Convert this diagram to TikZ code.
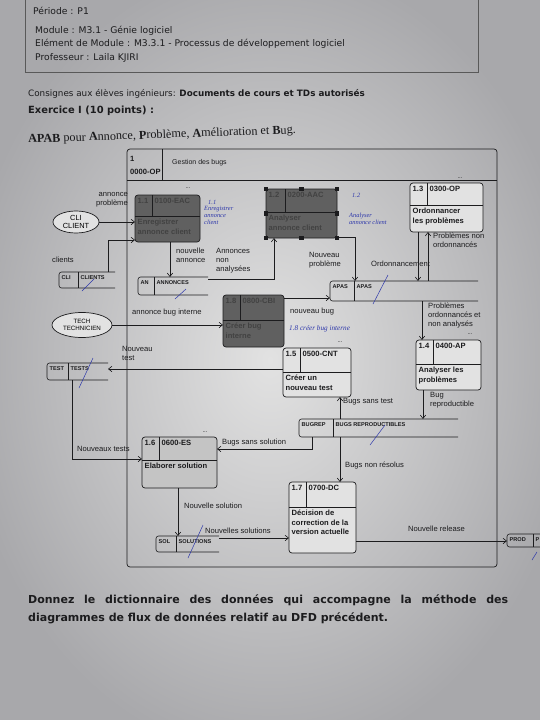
\documentclass[tikz,border=0pt]{standalone}
\usepackage{fontspec}
\setmainfont{Liberation Sans}
\newfontfamily\printfont{Liberation Serif}
\newfontfamily\roundfont{DejaVu Sans}
\usetikzlibrary{arrows.meta,shapes.geometric,calc}

\definecolor{paperhi}{RGB}{226,226,226}
\definecolor{paperlo}{RGB}{168,168,171}
\definecolor{ink}{RGB}{28,28,30}
\definecolor{pen}{RGB}{45,55,170}
\definecolor{darkfill}{RGB}{96,96,96}
\definecolor{lightfill}{RGB}{196,196,196}
\definecolor{boxfill}{RGB}{226,226,226}

\tikzset{
  procbox/.style={draw=ink, line width=0.7pt, rounded corners=3pt, inner sep=0pt, outer sep=0pt, fill=boxfill},
  darkproc/.style={fill=darkfill},
  greyproc/.style={fill=lightfill},
  divline/.style={draw=ink, line width=0.6pt},
  ptext/.style={font=\fontsize{7.6}{9.4}\selectfont\bfseries, text=ink, inner sep=0pt, align=left},
  dtext/.style={ptext, text=black!74},
  stext/.style={font=\fontsize{5.6}{6.5}\selectfont\bfseries, text=ink, inner sep=0pt},
  storeline/.style={draw=ink, line width=0.6pt},
  entity/.style={ellipse, draw=ink, line width=0.7pt, fill=boxfill, inner sep=0pt, align=center},
  flow/.style={draw=ink, line width=0.6pt, -{Straight Barb[length=3.5pt,width=5.5pt]}},
  lbl/.style={font=\fontsize{7.6}{9}\selectfont, text=ink, inner sep=0pt, align=left},
  pentext/.style={text=pen, font=\printfont\itshape\fontsize{6.4}{7}\selectfont, inner sep=0pt, align=left},
  penslash/.style={draw=pen, line width=0.5pt},
  dots/.style={font=\fontsize{6}{6}\selectfont, text=ink, inner sep=0pt},
  hdr/.style={font=\roundfont\fontsize{9.2}{10}\selectfont, text=ink, inner sep=0pt, anchor=west},
}

% process box: name, x1, y1, x2, y2, column x, row y, extra style
\newcommand\proc[8]{%
  \node[procbox,#8,minimum width={#4-#2},minimum height={#5-#3}] (#1) at ({(#2+#4)/2},{(#3+#5)/2}) {};
  \coordinate (#1-c) at (#6,#3);
  \coordinate (#1-r) at (#2,#7);
  \draw[divline] (#6,#3) -- (#6,#7);
  \draw[divline] (#2,#7) -- (#4,#7);
}
% process texts: name, style, number, code, label
\newcommand\proctext[5]{%
  \node[#2,anchor=north west] (#1-num) at ([shift={(2.5,3)}]#1.north west) {#3};
  \node[#2,anchor=north west] (#1-code) at ([shift={(2.5,3)}]#1-c) {#4};
  \node[#2,anchor=north west] (#1-lbl) at ([shift={(2.5,3)}]#1-r) {#5};
}
% data store: name, x1, y1, x end, y2, divider x, id, label
\newcommand\store[8]{%
  \node[inner sep=0pt, outer sep=0pt, minimum width={#4-#2}, minimum height={#5-#3}] (#1) at ({(#2+#4)/2},{(#3+#5)/2}) {};
  \draw[storeline, rounded corners=2.5pt] (#4,#3) -- (#2,#3) -- (#2,#5) -- (#4,#5);
  \draw[storeline] (#6,#3) -- (#6,#5);
  \node[stext,anchor=north west] (#1-id) at ({#2+2.5},{#3+3.5}) {#7};
  \node[stext,anchor=north west] (#1-nm) at ({#6+2.5},{#3+3.5}) {#8};
}

\begin{document}
\begin{tikzpicture}[x=1pt,y=-1pt]
\useasboundingbox (0,0) rectangle (540,720);
\shade[inner color=paperhi, outer color=paperlo] (-40,-40) rectangle (580,760);

% ---------- heading of the exam sheet ----------
\draw[line width=0.7pt, draw=black!65] (25,-20) -- (25,72) -- (478,72) -- (478,-20);
\node[hdr] (hper) at (33,11) {Période : P1};
\node[hdr] (hmod) at (35,31) {Module : M3.1 - Génie logiciel};
\node[hdr] (helm) at (35,44) {Elément de Module : M3.3.1 - Processus de développement logiciel};
\node[hdr] (hprof) at (35,58) {Professeur : Laila  KJIRI};
\node[hdr, font=\roundfont\fontsize{8.8}{10}\selectfont] (hcons) at (28,94) {Consignes aux élèves ingénieurs: \textbf{Documents de cours et TDs autorisés}};
\node[hdr, font=\roundfont\bfseries\fontsize{9.9}{11}\selectfont] (hex) at (28,111) {Exercice I (10 points) :};
\node[hdr, font=\printfont\fontsize{12.2}{13}\selectfont, rotate=2] (hapab) at (28,140)
  {\textbf{APAB} pour \textbf{A}nnonce, \textbf{P}roblème, \textbf{A}mélioration et \textbf{B}ug.};

% ---------- context process ----------
\proc{p1}{127}{149}{497}{567}{162}{180}{fill=none}
\node[ptext,anchor=west] (p1-num) at (130,159) {1};
\node[ptext,anchor=west] (p1-code) at (130,172) {0000-OP};
\node[lbl,anchor=west,font=\fontsize{7}{8}\selectfont] (p1-lbl) at (172,163) {Gestion des bugs};

% ---------- sub-processes ----------
\proc{p11}{135}{195}{200}{242}{152}{216}{darkproc}
\proctext{p11}{dtext}{1.1}{0100-EAC}{Enregistrer\\annonce client}
\proc{p12}{266}{189}{337}{238}{285}{212}{darkproc}
\proctext{p12}{dtext}{1.2}{0200-AAC}{Analyser\\annonce client}
\foreach \a in {north west,north,north east,east,south east,south,south west,west}
  \fill[ink] ($(p12.\a)+(-2.2,-2.2)$) rectangle ++(4.4,4.4);
\proc{p13}{410}{183}{483}{232}{427}{205}{}
\proctext{p13}{ptext}{1.3}{0300-OP}{Ordonnancer\\les problèmes}
\proc{p18}{223}{295}{284}{347}{240}{320}{darkproc}
\proctext{p18}{dtext}{1.8}{0800-CBI}{Créer bug\\interne}
\proc{p15}{283}{348}{351}{397}{300}{372}{}
\proctext{p15}{ptext}{1.5}{0500-CNT}{Créer un\\nouveau test}
\proc{p14}{416}{340}{481}{390}{433}{364}{}
\proctext{p14}{ptext}{1.4}{0400-AP}{Analyser les\\problèmes}
\proc{p16}{142}{437}{217}{488}{159}{460}{greyproc}
\proctext{p16}{ptext}{1.6}{0600-ES}{Elaborer solution}
\proc{p17}{289}{482}{356}{553}{306}{507}{}
\proctext{p17}{ptext}{1.7}{0700-DC}{Décision de\\correction de la\\version actuelle}

% ellipsis marks above some boxes
\node[dots] (d1) at (188,188) {...};
\node[dots] (d2) at (460,178) {...};
\node[dots] (d3) at (470,334) {...};
\node[dots] (d4) at (340,342) {...};
\node[dots] (d5) at (205,432) {...};

% ---------- data stores ----------
\store{CLIs}{59}{272}{115}{288}{78}{CLI}{CLIENTS}
\store{AN}{138}{277}{208}{295}{154}{AN}{ANNONCES}
\store{APAS}{330}{281}{478}{301}{354}{APAS}{APAS}
\store{TEST}{47}{363}{108}{380}{68}{TEST}{TESTS}
\store{BUG}{299}{419}{458}{437}{333}{BUGREP}{BUGS REPRODUCTIBLES}
\store{SOL}{156}{536}{219}{552}{176}{SOL}{SOLUTIONS}
\store{PROD}{507}{534}{548}{547}{533}{PROD}{P}

% ---------- external entities ----------
\node[entity, minimum width=46, minimum height=22, font=\fontsize{7.4}{8.4}\selectfont] (cli) at (76,222) {CLI\\CLIENT};
\node[entity, minimum width=60, minimum height=25, font=\fontsize{6.2}{7.4}\selectfont] (tech) at (82,325) {TECH\\TECHNICIEN};

% ---------- attachment points ----------
\coordinate (a2) at ($(CLIs.north west)+(49,0)$);
\coordinate (b2) at ($(p11.south west)+(0,-2)$);
\coordinate (a3) at ($(p11.south west)+(35,0)$);
\coordinate (a4) at ($(AN.north east)+(0,2)$);
\coordinate (b4) at ($(p12.south west)+(8,0)$);
\coordinate (a5) at ($(p12.south east)+(0,-1)$);
\coordinate (b5) at ($(APAS.north west)+(25,0)$);
\coordinate (a6) at ($(p13.south west)+(8,0)$);
\coordinate (a7) at ($(APAS.north west)+(98,0)$);
\coordinate (a9) at ($(p18.north east)+(0,3)$);
\coordinate (a10) at ($(p15.north west)+(0,21)$);
\coordinate (a11) at ($(APAS.south west)+(92,0)$);
\coordinate (a12) at ($(p14.south west)+(7,0)$);
\coordinate (a13) at ($(BUG.north west)+(41,0)$);
\coordinate (a14) at ($(BUG.south west)+(13,0)$);
\coordinate (b14) at ($(p16.north east)+(0,12)$);
\coordinate (a15) at ($(BUG.south west)+(41,0)$);
\coordinate (a16) at ($(TEST.south west)+(25,0)$);
\coordinate (b16) at ($(p16.north west)+(0,22)$);
\coordinate (a17) at ($(p16.south west)+(36,0)$);
\coordinate (a18) at ($(SOL.north east)+(0,2)$);
\coordinate (a19) at ($(p17.south east)+(0,-12)$);

% ---------- data flows ----------
\draw[flow] (cli.east) -- (cli.east -| p11.west);
\draw[flow] (a2) |- (b2);
\draw[flow] (a3) -- (a3 |- AN.north);
\draw[flow] (a4) -| (b4);
\draw[flow] (a5) -| (b5);
\draw[flow] (a6) -- (a6 |- APAS.north);
\draw[flow] (a7) -- (a7 |- p13.south);
\draw[flow] (tech.east) -- (tech.east -| p18.west);
\draw[flow] (a9) -- (a9 -| APAS.west);
\draw[flow] (a10) -- (a10 -| TEST.east);
\draw[flow] (a11) -- (a11 |- p14.north);
\draw[flow] (a12) -- (a12 |- BUG.north);
\draw[flow] (a13) -- (a13 |- p15.south);
\draw[flow] (a14) |- (b14);
\draw[flow] (a15) -- (a15 |- p17.north);
\draw[flow] (a16) |- (b16);
\draw[flow] (a17) -- (a17 |- SOL.north);
\draw[flow] (a18) -- (a18 -| p17.west);
\draw[flow] (a19) -- (a19 -| PROD.west);

% ---------- flow labels ----------
\node[lbl,anchor=east,align=right] (l1) at (128,200) {annonce\\problème};
\node[lbl,anchor=west] (l2) at (52,260) {clients};
\node[lbl,anchor=north west] (l3) at (176,248) {nouvelle\\annonce};
\node[lbl,anchor=north west] (l4) at (216,248) {Annonces\\non\\analysées};
\node[lbl,anchor=north west] (l5) at (309,252) {Nouveau\\problème};
\node[lbl,anchor=west] (l6) at (371,264) {Ordonnancement};
\node[lbl,anchor=north west] (l7) at (433,233) {Problèmes non\\ordonnancés};
\node[lbl,anchor=west] (l8) at (132,313) {annonce bug interne};
\node[lbl,anchor=west] (l9) at (290,312) {nouveau bug};
\node[lbl,anchor=north west] (l10) at (122,346) {Nouveau\\test};
\node[lbl,anchor=north west] (l11) at (428,303) {Problèmes\\ordonnancés et\\non analysés};
\node[lbl,anchor=north west] (l12) at (430,392) {Bug\\reproductible};
\node[lbl,anchor=west] (l13) at (343,402) {Bugs sans test};
\node[lbl,anchor=west] (l14) at (222,443) {Bugs sans solution};
\node[lbl,anchor=west] (l15) at (345,465) {Bugs non résolus};
\node[lbl,anchor=west] (l16) at (77,449) {Nouveaux tests};
\node[lbl,anchor=west] (l17) at (184,506) {Nouvelle solution};
\node[lbl,anchor=west] (l18) at (205,531) {Nouvelles solutions};
\node[lbl,anchor=west] (l19) at (408,529) {Nouvelle release};

% ---------- pen notes ----------
\node[pentext,anchor=west] (h1) at (208,202) {1.1};
\node[pentext,anchor=north west] (h2) at (204,206) {Enregistrer\\annonce\\client};
\node[pentext,anchor=west] (h3) at (352,195) {1.2};
\node[pentext,anchor=north west] (h4) at (349,213) {Analyser\\annonce client};
\node[pentext,anchor=west,font=\printfont\itshape\fontsize{7.2}{8}\selectfont] (h5) at (289,329) {1.8 créer bug interne};
\draw[penslash] (82,291) -- (94,279);
\draw[penslash] (175,299) -- (186,289);
\draw[penslash] (373,304) -- (388,275);
\draw[penslash] (79,388) -- (93,358);
\draw[penslash] (370,445) -- (385,425);
\draw[penslash] (188,558) -- (203,525);
\draw[penslash] (532,560) -- (537,552);

% ---------- question ----------
\node[hdr, font=\roundfont\bfseries\fontsize{11}{12}\selectfont] (q1) at (28,600)
  {\makebox[480pt][s]{Donnez le dictionnaire des données qui accompagne la méthode des}};
\node[hdr, font=\roundfont\bfseries\fontsize{11}{12}\selectfont] (q2) at (28,618)
  {diagrammes de flux de données relatif au DFD précédent.};
\end{tikzpicture}
\end{document}
